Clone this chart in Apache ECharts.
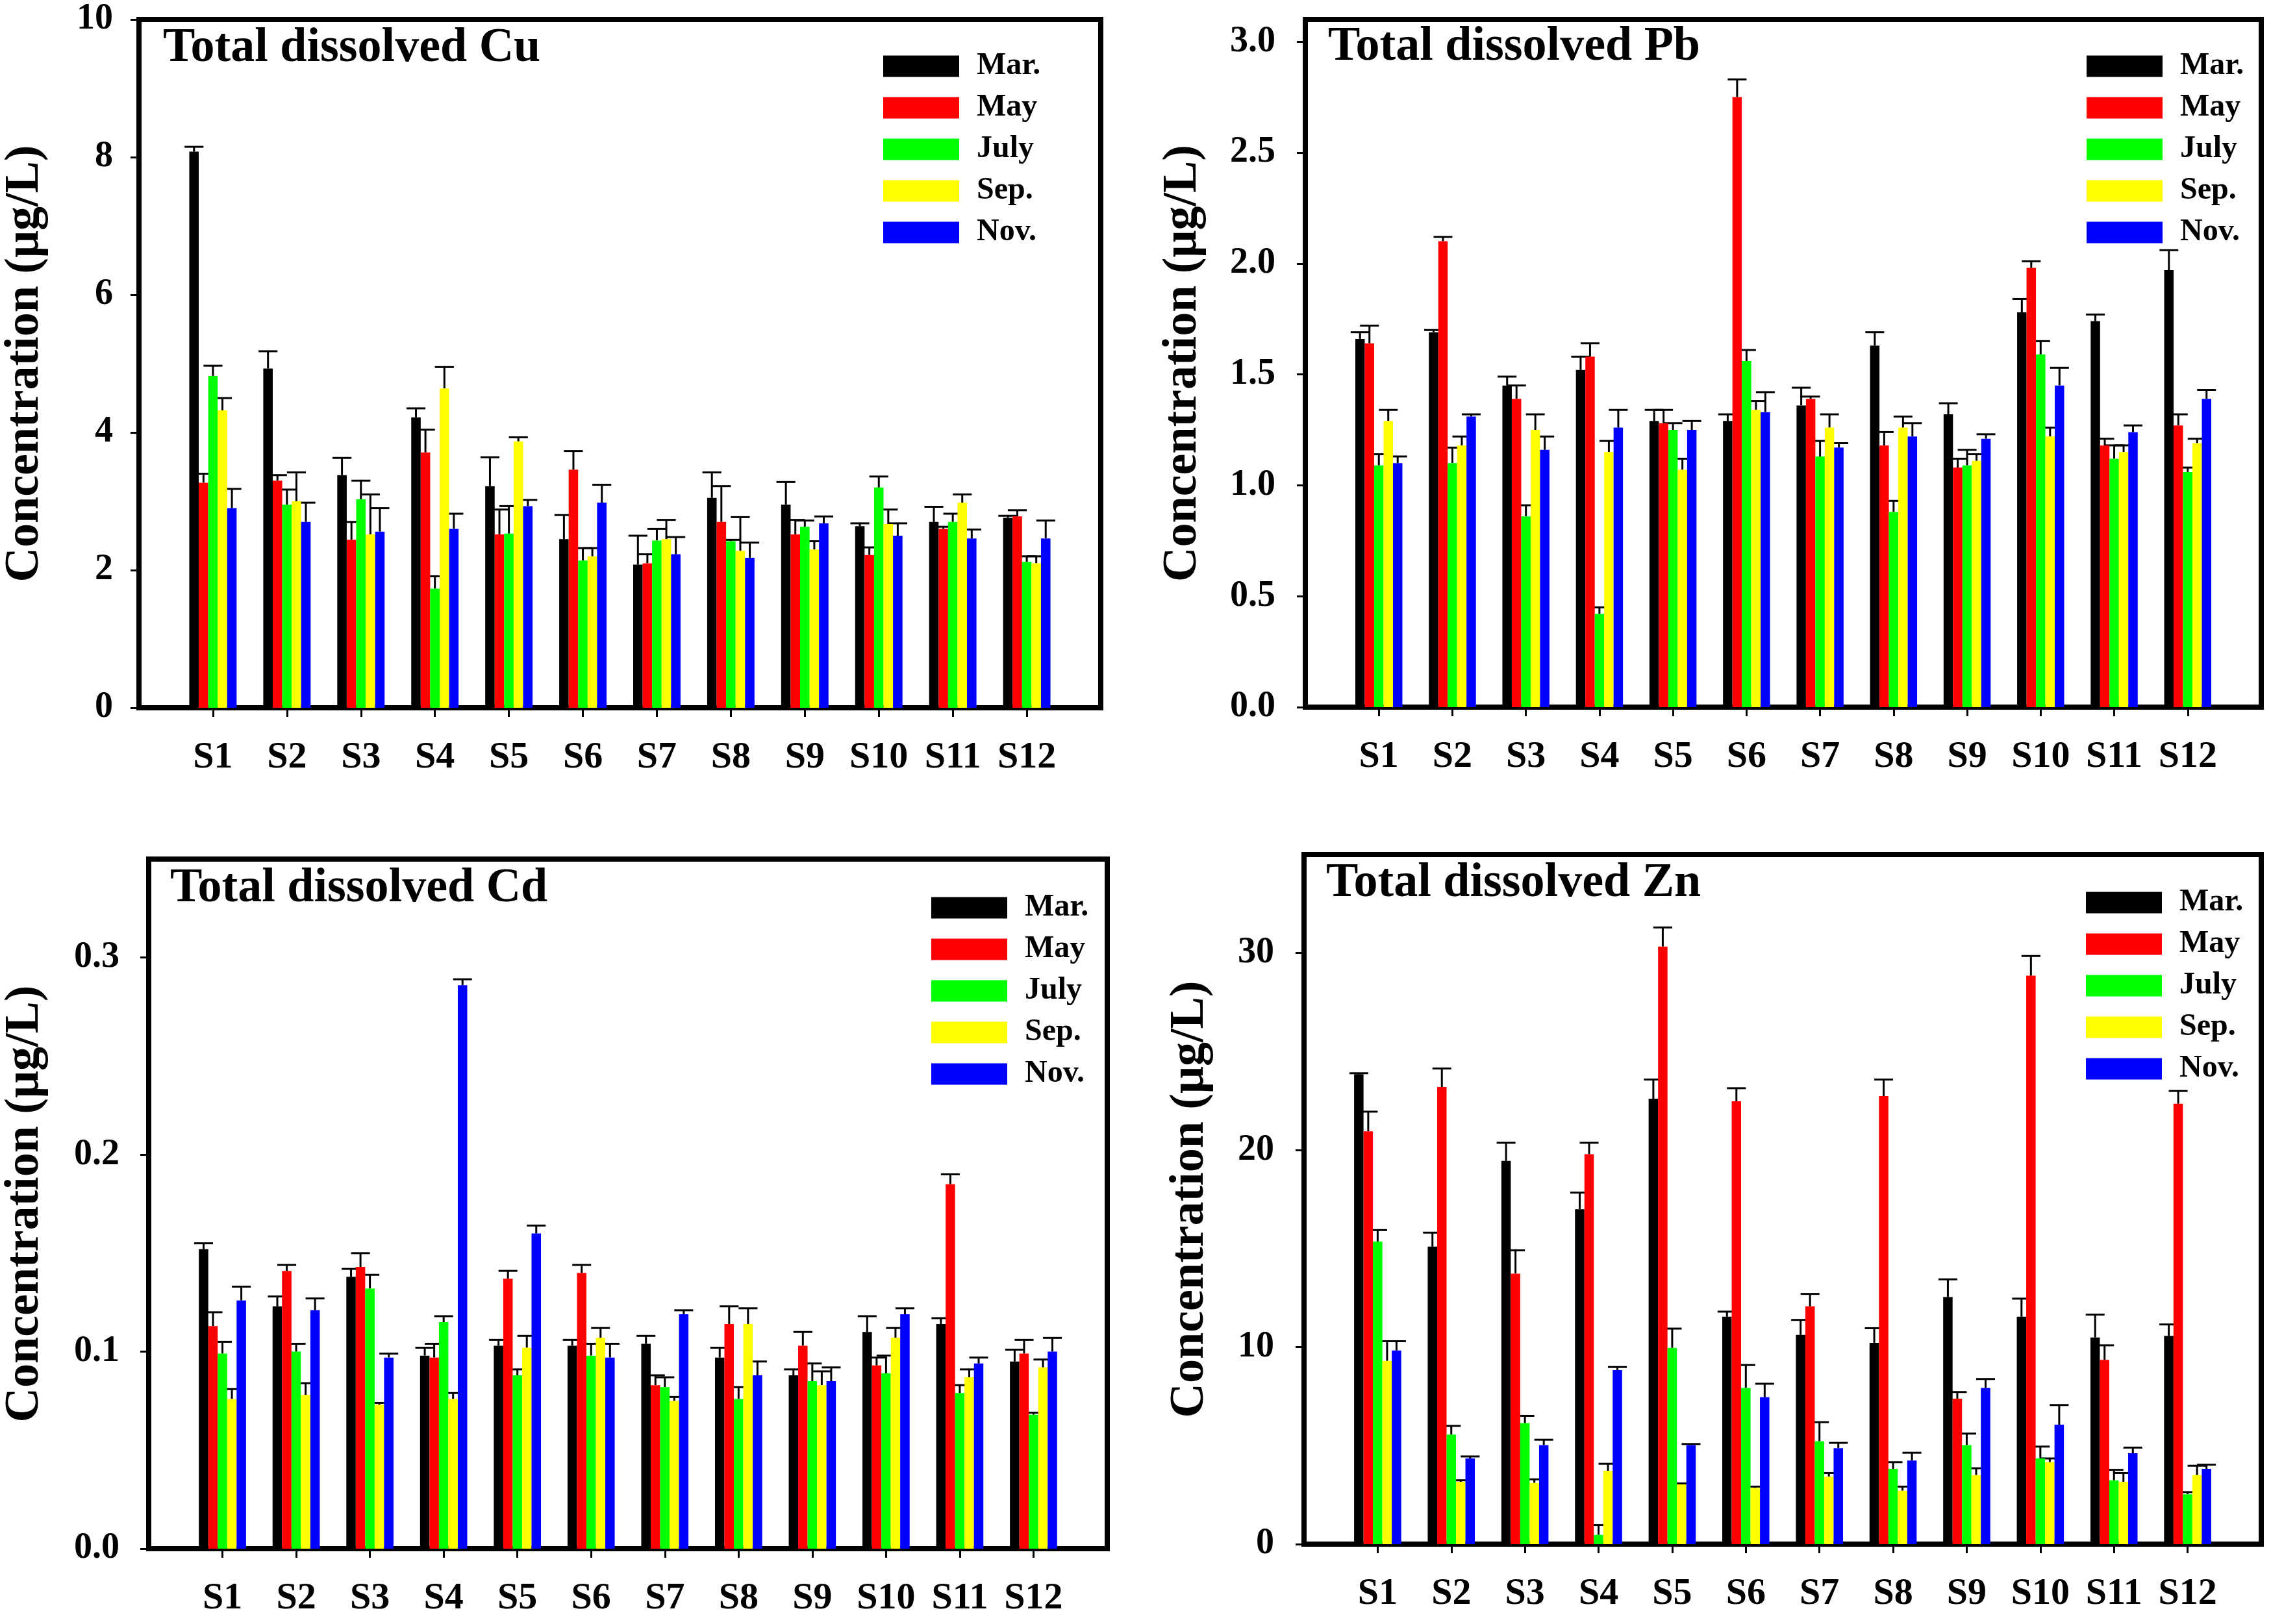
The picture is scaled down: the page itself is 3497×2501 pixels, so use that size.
<!DOCTYPE html>
<html>
<head>
<meta charset="utf-8">
<title>Total dissolved metals</title>
<script src="https://cdn.jsdelivr.net/npm/echarts@6/dist/echarts.min.js"></script>
<style>
    html, body { margin: 0; padding: 0; background: #fff; }
    #main { width: 3497px; height: 2501px; }
</style>
</head>
<body>
<div id="main"></div>
<script type="text/javascript">
// sampling sites and months
var sites = ['S1', 'S2', 'S3', 'S4', 'S5', 'S6', 'S7', 'S8', 'S9', 'S10', 'S11', 'S12'];
var months = ['Mar.', 'May', 'July', 'Sep.', 'Nov.'];

// Cu (ug/L), rows = months, cols = sites
var cuMean = [
    [8.08, 4.93, 3.38, 4.22, 3.22, 2.45, 2.08, 3.05, 2.95, 2.64, 2.70, 2.76],
    [3.27, 3.30, 2.44, 3.71, 2.52, 3.46, 2.10, 2.70, 2.52, 2.22, 2.60, 2.78],
    [4.82, 2.95, 3.03, 1.73, 2.53, 2.14, 2.43, 2.42, 2.63, 3.20, 2.70, 2.12],
    [4.32, 3.00, 2.52, 4.64, 3.87, 2.20, 2.45, 2.28, 2.30, 2.67, 2.98, 2.10],
    [2.90, 2.70, 2.56, 2.60, 2.93, 2.98, 2.23, 2.18, 2.68, 2.50, 2.46, 2.46]
];
var cuSd = [
    [0.07, 0.25, 0.25, 0.13, 0.42, 0.35, 0.42, 0.37, 0.33, 0.04, 0.22, 0.03],
    [0.13, 0.08, 0.26, 0.33, 0.36, 0.27, 0.13, 0.52, 0.21, 0.11, 0.03, 0.09],
    [0.15, 0.22, 0.27, 0.18, 0.40, 0.18, 0.17, 0.02, 0.09, 0.16, 0.12, 0.08],
    [0.18, 0.42, 0.58, 0.31, 0.06, 0.12, 0.28, 0.49, 0.12, 0.21, 0.12, 0.10],
    [0.28, 0.28, 0.34, 0.22, 0.09, 0.26, 0.25, 0.22, 0.10, 0.18, 0.13, 0.26]
];

// Pb
var pbMean = [
    [1.66, 1.69, 1.45, 1.52, 1.29, 1.29, 1.36, 1.63, 1.32, 1.78, 1.74, 1.97],
    [1.64, 2.10, 1.39, 1.58, 1.28, 2.75, 1.39, 1.18, 1.08, 1.98, 1.18, 1.27],
    [1.09, 1.10, 0.86, 0.42, 1.25, 1.56, 1.13, 0.88, 1.09, 1.59, 1.12, 1.06],
    [1.29, 1.18, 1.25, 1.15, 1.07, 1.34, 1.26, 1.26, 1.11, 1.22, 1.15, 1.19],
    [1.10, 1.31, 1.16, 1.26, 1.25, 1.33, 1.17, 1.22, 1.21, 1.45, 1.24, 1.39]
];
var pbSd = [
    [0.03, 0.01, 0.04, 0.06, 0.05, 0.03, 0.08, 0.06, 0.05, 0.06, 0.03, 0.09],
    [0.08, 0.02, 0.06, 0.06, 0.06, 0.08, 0.01, 0.06, 0.04, 0.03, 0.03, 0.05],
    [0.05, 0.07, 0.05, 0.03, 0.03, 0.05, 0.07, 0.05, 0.07, 0.06, 0.06, 0.02],
    [0.05, 0.04, 0.07, 0.05, 0.05, 0.04, 0.06, 0.05, 0.03, 0.04, 0.03, 0.02],
    [0.03, 0.01, 0.06, 0.08, 0.04, 0.09, 0.02, 0.06, 0.02, 0.08, 0.03, 0.04]
];

// Cd
var cdMean = [
    [0.152, 0.123, 0.138, 0.098, 0.103, 0.103, 0.104, 0.097, 0.088, 0.110, 0.114, 0.095],
    [0.113, 0.141, 0.143, 0.097, 0.137, 0.140, 0.083, 0.114, 0.103, 0.093, 0.185, 0.099],
    [0.099, 0.100, 0.132, 0.115, 0.088, 0.098, 0.082, 0.076, 0.085, 0.089, 0.079, 0.068],
    [0.076, 0.078, 0.073, 0.076, 0.102, 0.107, 0.075, 0.114, 0.083, 0.107, 0.087, 0.092],
    [0.126, 0.121, 0.097, 0.286, 0.160, 0.097, 0.119, 0.088, 0.085, 0.119, 0.094, 0.100]
];
var cdSd = [
    [0.003, 0.005, 0.004, 0.004, 0.003, 0.003, 0.004, 0.005, 0.003, 0.008, 0.003, 0.006],
    [0.007, 0.003, 0.007, 0.007, 0.004, 0.004, 0.005, 0.009, 0.007, 0.004, 0.005, 0.007],
    [0.006, 0.004, 0.007, 0.003, 0.003, 0.006, 0.005, 0.006, 0.009, 0.009, 0.004, 0.001],
    [0.005, 0.006, 0.001, 0.003, 0.006, 0.005, 0.002, 0.008, 0.007, 0.005, 0.004, 0.004],
    [0.007, 0.006, 0.002, 0.003, 0.004, 0.007, 0.002, 0.007, 0.007, 0.003, 0.003, 0.007]
];

// Zn
var znMean = [
    [23.85, 15.10, 19.45, 17.00, 22.61, 11.54, 10.62, 10.22, 12.54, 11.54, 10.49, 10.57],
    [20.95, 23.20, 13.73, 19.79, 30.33, 22.48, 12.07, 22.74, 7.38, 28.85, 9.35, 22.35],
    [15.36, 5.56, 6.14, 0.47, 9.96, 7.93, 5.22, 3.82, 5.03, 4.35, 3.24, 2.53],
    [9.30, 3.16, 3.11, 3.72, 3.03, 2.85, 3.43, 2.71, 3.50, 4.16, 3.16, 3.50],
    [9.83, 4.35, 5.03, 8.83, 5.03, 7.46, 4.87, 4.24, 7.93, 6.06, 4.61, 3.82]
];
var znSd = [
    [0.05, 0.71, 0.92, 0.84, 0.97, 0.26, 0.76, 0.74, 0.90, 0.92, 1.16, 0.58],
    [1.00, 0.94, 1.18, 0.58, 0.97, 0.66, 0.63, 0.84, 0.34, 1.00, 0.74, 0.65],
    [0.58, 0.44, 0.37, 0.50, 0.98, 1.16, 0.97, 0.34, 0.58, 0.60, 0.53, 0.11],
    [1.00, 0.08, 0.18, 0.36, 0.05, 0.07, 0.18, 0.21, 0.35, 0.19, 0.45, 0.48],
    [0.47, 0.10, 0.27, 0.16, 0.05, 0.68, 0.27, 0.40, 0.45, 1.00, 0.29, 0.21]
];

var cuTicks = [0, 2, 4, 6, 8, 10];
var pbTicks = [0, 0.5, 1.0, 1.5, 2.0, 2.5, 3.0];
var cdTicks = [0, 0.1, 0.2, 0.3];
var znTicks = [0, 10, 20, 30];

var colors = ['#000000', '#ff0000', '#00ff00', '#ffff00', '#0000ff'];
var FONT = 'Liberation Serif';
var GAP = 0.36;   // barCategoryGap

// empty slot at both ends so S1 and S12 sit one band in from the frame
var xCats = [''].concat(sites).concat(['']);

var panels = [
    {metal: 'Cu', mean: cuMean, sd: cuSd, ticks: cuTicks, max: 10, dec: 0,
     grid: {left: 214, top: 30, right: 1802, bottom: 1411},
     title: {left: 251, top: 38}, legend: {left: 1360, top: 78},
     nameGap: 138, labelMargin: 40},
    {metal: 'Pb', mean: pbMean, sd: pbSd, ticks: pbTicks, max: 3.1, dec: 1,
     grid: {left: 2010, top: 30, right: 15, bottom: 1412},
     title: {left: 2045, top: 36}, legend: {left: 3213, top: 78},
     nameGap: 151, labelMargin: 46},
    {metal: 'Cd', mean: cdMean, sd: cdSd, ticks: cdTicks, max: 0.35, dec: 1,
     grid: {left: 229, top: 1323, right: 1792, bottom: 116},
     title: {left: 262, top: 1332}, legend: {left: 1434, top: 1374},
     nameGap: 153, labelMargin: 45},
    {metal: 'Zn', mean: znMean, sd: znSd, ticks: znTicks, max: 35, dec: 0,
     grid: {left: 2008, top: 1316, right: 15, bottom: 123},
     title: {left: 2042, top: 1324}, legend: {left: 3212, top: 1366},
     nameGap: 138, labelMargin: 46}
];

// upper error bar with cap, placed on bar j of the group
function errRender(j) {
    return function (params, api) {
        var c = api.value(0), v = api.value(1), t = api.value(2);
        var band = api.size([1, 0])[0];
        var bw = band * (1 - GAP) / months.length;
        var p0 = api.coord([c, v]);
        var p1 = api.coord([c, t]);
        var x = p0[0] + (j - (months.length - 1) / 2) * bw;
        return {
            type: 'group',
            children: [
                {type: 'line', shape: {x1: x, y1: p0[1], x2: x, y2: p1[1]},
                 style: {stroke: '#000', lineWidth: 3}},
                {type: 'line', shape: {x1: x - bw, y1: p1[1], x2: x + bw, y2: p1[1]},
                 style: {stroke: '#000', lineWidth: 3}}
            ]
        };
    };
}

var grids = [], xAxes = [], yAxes = [], titles = [], legends = [], series = [];

panels.forEach(function (p, k) {
    grids.push({
        left: p.grid.left, top: p.grid.top, right: p.grid.right, bottom: p.grid.bottom,
        show: true, borderColor: '#000', borderWidth: 8, backgroundColor: 'transparent'
    });
    xAxes.push({
        type: 'category', gridIndex: k, data: xCats, boundaryGap: false,
        axisLine: {show: false},
        axisTick: {
            length: 14, lineStyle: {color: '#000', width: 3},
            interval: function (i) { return i > 0 && i < xCats.length - 1; }
        },
        axisLabel: {
            interval: 0, margin: 48, color: '#000',
            fontFamily: FONT, fontWeight: 'bold', fontSize: 58
        },
        splitLine: {show: false}
    });
    yAxes.push({
        type: 'value', gridIndex: k, min: 0, max: p.max,
        name: 'Concentration (μg/L)', nameLocation: 'middle', nameGap: p.nameGap,
        nameTextStyle: {color: '#000', fontFamily: FONT, fontWeight: 'bold', fontSize: 74},
        axisLine: {show: false},
        axisTick: {show: true, length: 13, lineStyle: {color: '#000', width: 3},
                   customValues: p.ticks},
        axisLabel: {
            margin: p.labelMargin, color: '#000',
            fontFamily: FONT, fontWeight: 'bold', fontSize: 56,
            customValues: p.ticks,
            formatter: function (v) { return v.toFixed(p.dec); }
        },
        splitLine: {show: false}
    });
    titles.push({
        text: 'Total dissolved ' + p.metal, left: p.title.left, top: p.title.top, padding: 0,
        textStyle: {color: '#000', fontFamily: FONT, fontWeight: 'bold', fontSize: 74}
    });
    legends.push({
        data: months, orient: 'vertical', left: p.legend.left, top: p.legend.top,
        padding: 0, itemGap: 16, itemWidth: 117, itemHeight: 33, icon: 'rect',
        selectedMode: false,
        textStyle: {color: '#000', fontFamily: FONT, fontWeight: 'bold', fontSize: 48,
                    padding: [0, 0, 0, 22]}
    });
    months.forEach(function (m, j) {
        series.push({
            type: 'bar', name: m, xAxisIndex: k, yAxisIndex: k,
            barGap: '0%', barCategoryGap: (GAP * 100) + '%',
            itemStyle: {color: colors[j]},
            data: p.mean[j].map(function (v, i) { return [i + 1, v]; })
        });
        series.push({
            type: 'custom', xAxisIndex: k, yAxisIndex: k, silent: true,
            renderItem: errRender(j),
            data: p.mean[j].map(function (v, i) { return [i + 1, v, v + p.sd[j][i]]; })
        });
    });
});

var myChart = echarts.init(document.getElementById('main'));
myChart.setOption({
    animation: false,
    backgroundColor: '#fff',
    title: titles,
    legend: legends,
    grid: grids,
    xAxis: xAxes,
    yAxis: yAxes,
    series: series
});
</script>
</body>
</html>
